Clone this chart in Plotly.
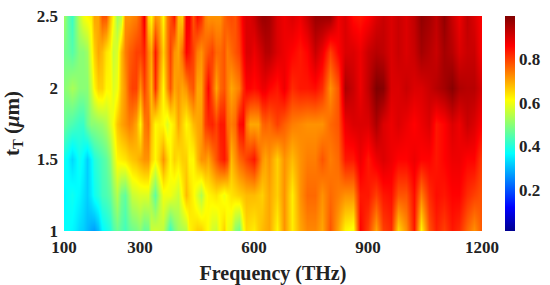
import plotly.graph_objects as go

freq = list(range(100, 641, 10)) + list(range(660, 1201, 20))
thickness = [1.0, 1.25, 1.5, 1.75, 2.0, 2.25, 2.5]

t_100 = [.37,.37,.36,.35,.33,.32,.30,.28,.27,.30,.36,.38,.40,.44,.47,.45,.43,.46,.47,.48,.50,.46,.47,.56,.57,.56,.55,.48,.42,.48,.52,.53,.54,.62,.64,.66,.66,.63,.61,.57,.56,.62,.66,.60,.58,.50,.47,.60,.65,.64,.63,.66,.68,.69,.70,
         .62,.72,.63,.70,.73,.73,.70,.78,.70,.62,.60,.86,.80,.70,.80,.82,.65,.72,.84,.62,.78,.83,.80,.84,.82,.76,.72,.78]
t_125 = [.36,.37,.38,.37,.36,.34,.32,.35,.38,.40,.43,.44,.46,.50,.54,.48,.46,.52,.56,.57,.58,.58,.58,.52,.46,.54,.60,.60,.60,.58,.56,.62,.68,.65,.62,.58,.54,.60,.62,.63,.64,.62,.60,.62,.64,.65,.66,.67,.68,.68,.68,.67,.66,.68,.70,
         .66,.72,.63,.72,.76,.76,.72,.76,.74,.72,.72,.84,.84,.80,.84,.85,.78,.78,.85,.74,.82,.85,.84,.86,.86,.82,.80,.78]
t_150 = [.38,.36,.33,.35,.38,.36,.32,.36,.40,.42,.44,.46,.50,.56,.62,.63,.64,.66,.67,.68,.70,.72,.72,.66,.62,.66,.72,.66,.62,.66,.64,.66,.66,.62,.62,.68,.72,.72,.70,.74,.78,.82,.84,.80,.68,.72,.76,.78,.80,.82,.84,.78,.72,.70,.72,
         .66,.72,.68,.72,.74,.74,.78,.74,.76,.84,.84,.88,.84,.88,.90,.88,.86,.86,.88,.86,.86,.84,.86,.88,.88,.86,.86,.80]
t_175 = [.47,.45,.44,.43,.42,.42,.47,.50,.50,.51,.52,.54,.58,.61,.67,.70,.72,.74,.73,.70,.62,.74,.76,.68,.62,.63,.62,.58,.61,.64,.70,.66,.62,.64,.68,.70,.71,.80,.82,.83,.80,.84,.84,.76,.74,.76,.85,.86,.75,.70,.70,.70,.76,.77,.76,
         .80,.77,.74,.73,.72,.72,.72,.76,.78,.88,.90,.90,.90,.95,.90,.88,.90,.88,.86,.88,.90,.84,.86,.90,.88,.92,.90,.86]
t_200 = [.50,.51,.53,.52,.50,.50,.50,.56,.62,.66,.66,.62,.62,.58,.60,.68,.72,.78,.80,.80,.72,.80,.74,.68,.82,.70,.62,.72,.78,.70,.72,.70,.72,.76,.78,.70,.70,.80,.86,.78,.70,.76,.78,.74,.70,.72,.74,.82,.86,.86,.85,.86,.88,.88,.86,
         .84,.88,.82,.84,.84,.85,.82,.72,.78,.95,.92,.88,.93,1.0,.99,.90,.90,.92,.90,.90,.92,.94,.96,.99,.95,.94,.94,.90]
t_225 = [.48,.47,.45,.47,.50,.50,.52,.60,.66,.70,.68,.64,.62,.56,.58,.68,.74,.77,.78,.80,.80,.83,.74,.70,.84,.74,.66,.74,.80,.72,.70,.76,.86,.84,.80,.74,.72,.76,.78,.80,.76,.76,.78,.74,.76,.78,.80,.86,.90,.90,.88,.90,.92,.94,.94,
         .90,.88,.86,.84,.86,.92,.88,.80,.86,.90,.90,.88,.92,.94,.93,.90,.92,.90,.92,.96,.94,.92,.96,.94,.90,.92,.92,.86]
t_250 = [.52,.46,.42,.48,.55,.60,.62,.63,.70,.70,.78,.78,.68,.62,.52,.55,.72,.72,.73,.74,.78,.88,.66,.62,.72,.70,.62,.74,.78,.84,.68,.66,.87,.87,.78,.85,.82,.74,.72,.72,.72,.72,.76,.78,.79,.78,.82,.88,.90,.90,.92,.95,.97,.97,.96,
         .90,.88,.90,.88,.92,.97,.97,.97,.88,.90,.85,.84,.86,.90,.92,.90,.92,.90,.93,.98,.96,.93,.98,.92,.88,.93,.90,.86]

z_rows = [t_100, t_125, t_150, t_175, t_200, t_225, t_250]

x_ticks = [100, 300, 600, 900, 1200]
y_ticks = [1, 1.5, 2, 2.5]
y_labels = ["1", "1.5", "2", "2.5"]
cb_ticks = [0.2, 0.4, 0.6, 0.8]
cb_labels = ["0.2", "0.4", "0.6", "0.8"]

jet = [[0, "rgb(0,0,143)"], [0.11, "rgb(0,0,255)"], [0.36, "rgb(0,255,255)"],
       [0.61, "rgb(255,255,0)"], [0.86, "rgb(255,0,0)"], [1, "rgb(128,0,0)"]]

serif = "Liberation Serif"
ink = "#222222"
tickfont = dict(family=serif, size=17, color=ink, weight=700)

fig = go.Figure(go.Heatmap(
    x=freq, y=thickness, z=z_rows, zmin=0.01, zmax=1.0,
    zsmooth="best", colorscale=jet, hoverinfo="skip",
    colorbar=dict(
        thickness=10, thicknessmode="pixels", len=1, lenmode="fraction",
        x=1.055, xanchor="left", xpad=0, ypad=0, y=0.5, yanchor="middle",
        outlinewidth=0, ticks="", tickvals=cb_ticks, ticktext=cb_labels,
        tickfont=tickfont,
    ),
))

fig.update_layout(
    width=550, height=285,
    margin=dict(l=64, r=68, t=16, b=54, autoexpand=False),
    paper_bgcolor="white", plot_bgcolor="white",
    font=dict(family=serif, color=ink),
    xaxis=dict(
        range=[100, 1200], tickvals=x_ticks, ticks="", showgrid=False, zeroline=False,
        automargin=False, tickfont=tickfont, ticklabelstandoff=4,
        title=dict(text="<b>Frequency (THz)</b>", font=dict(family=serif, size=20, color=ink)),
    ),
    yaxis=dict(
        range=[1, 2.5], tickvals=y_ticks, ticktext=y_labels, ticks="", showgrid=False, zeroline=False,
        automargin=False, tickfont=tickfont, ticklabelstandoff=5,
        title=dict(text="<b>t<sub>T</sub> (<i>μ</i>m)</b>", font=dict(family=serif, size=21, color=ink)),
    ),
)

fig.write_html("out.html", config={"displayModeBar": False},
               post_script="document.body.style.margin='0';")
